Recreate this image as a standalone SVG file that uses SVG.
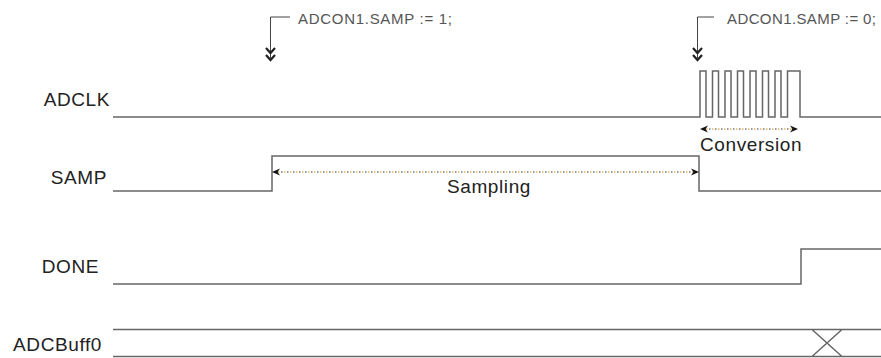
<svg xmlns="http://www.w3.org/2000/svg" width="881" height="358" viewBox="0 0 881 358">
<defs>
<style>
.sig{fill:none;stroke:#666;stroke-width:1.5}
.lbl{font-family:"Liberation Sans",Arial,sans-serif;font-size:19px;letter-spacing:0.6px;fill:#222}
.ann{font-family:"Liberation Sans",Arial,sans-serif;font-size:15px;fill:#555}
.aline{fill:none;stroke:#444;stroke-width:1}
.chev{fill:none;stroke:#222;stroke-width:2.2}
.dotk{fill:none;stroke:#333;stroke-width:1;stroke-dasharray:1.5 4.5}
.doto{fill:none;stroke:#e0900f;stroke-width:1;stroke-dasharray:1.5 4.5;stroke-dashoffset:3}
</style>
<marker id="ah" viewBox="0 0 10 10" refX="10" refY="5" markerWidth="10" markerHeight="8" orient="auto-start-reverse" markerUnits="userSpaceOnUse">
<path d="M0,0.5 L10,5 L0,9.5 L3,5 Z" fill="#111"/>
</marker>
</defs>
<rect width="881" height="358" fill="#fff"/>
<g id="ADCLK">
<text class="lbl" x="110" y="106" text-anchor="end">ADCLK</text>
<path class="sig" d="M113,117 H700 V71 H706 V117 H712.5 V71 H718.5 V117 H725 V71 H731 V117 H737.5 V71 H743.5 V117 H750 V71 H756 V117 H762.5 V71 H768.5 V117 H775 V71 H781 V117 H787.5 V71 H800 V117 H881"/>
</g>
<g id="SAMP">
<text class="lbl" x="107" y="184" text-anchor="end">SAMP</text>
<path class="sig" d="M113,191 H272 V156 H699 V191 H881"/>
</g>
<g id="DONE">
<text class="lbl" x="99" y="273" text-anchor="end">DONE</text>
<path class="sig" d="M113,284 H801 V249 H881"/>
</g>
<g id="ADCBuff0">
<text class="lbl" x="102" y="351" text-anchor="end">ADCBuff0</text>
<path class="sig" d="M113,329.5 H881 M113,356.5 H881 M812,329.5 L842,356.5 M842,329.5 L812,356.5"/>
</g>
<g id="annot-set">
<path class="aline" d="M290,17 H270.5 V58"/>
<path class="chev" d="M266,48 L270.5,53 L275,48 M266,55 L270.5,60 L275,55"/>
<text class="ann" x="298" y="24" textLength="154" lengthAdjust="spacing">ADCON1.SAMP := 1;</text>
</g>
<g id="annot-clear">
<path class="aline" d="M714,17 H697.5 V58"/>
<path class="chev" d="M693,48 L697.5,53 L702,48 M693,55 L697.5,60 L702,55"/>
<text class="ann" x="727" y="24" textLength="149" lengthAdjust="spacing">ADCON1.SAMP := 0;</text>
</g>
<g id="connectors">
<path class="dotk" d="M275,172 H696"/>
<path class="doto" d="M275,172 H696"/>
<path d="M272,172 H699" fill="none" stroke="none" marker-start="url(#ah)" marker-end="url(#ah)"/>
<path class="dotk" d="M703,129 H795"/>
<path class="doto" d="M703,129 H795"/>
<path d="M700,129 H798" fill="none" stroke="none" marker-start="url(#ah)" marker-end="url(#ah)"/>
</g>
<g id="labels">
<text class="lbl" x="489" y="193" text-anchor="middle">Sampling</text>
<text class="lbl" x="700" y="151">Conversion</text>
</g>
</svg>
